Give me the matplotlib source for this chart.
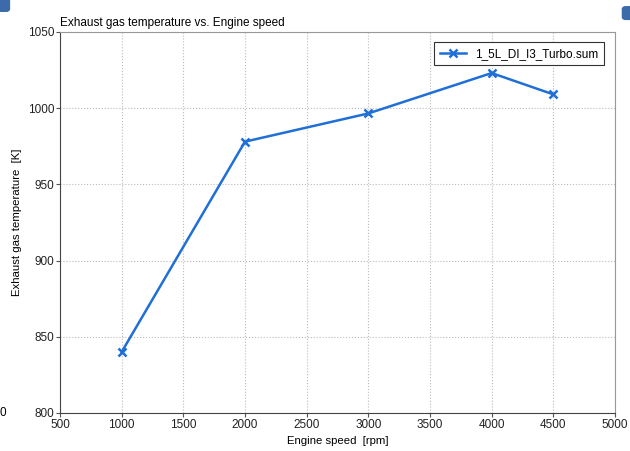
import matplotlib.pyplot as plt
from matplotlib.patches import FancyBboxPatch

plt.rcParams['font.family'] = ['Liberation Sans', 'DejaVu Sans']

speed = [1000, 2000, 3000, 4000, 4500]
temp = [840, 978, 996.5, 1023, 1009]
label = "1_5L_DI_I3_Turbo.sum"

fig = plt.figure(figsize=(6.3, 4.51), dpi=100)
ax = fig.add_axes([0.0952, 0.0843, 0.881, 0.845])

ax.plot(speed, temp, color="#1f6fd6", linewidth=1.8, marker="x",
        markersize=6, markeredgewidth=1.8, label=label)

ax.set_xlim(500, 5000)
ax.set_ylim(800, 1050)
ax.set_xticks(range(500, 5001, 500))
ax.set_yticks(range(800, 1051, 50))
ax.tick_params(labelsize=8.5, length=3, color="#555555", pad=1, labelcolor="#222222")
ax.grid(True, linestyle=":", color="#bbbbbb", linewidth=0.8)

for s in ["left", "bottom"]:
    ax.spines[s].set_color("#444444")
for s in ["top", "right"]:
    ax.spines[s].set_color("#999999")

ax.set_xlabel("Engine speed  [rpm]", fontsize=8.2, labelpad=4)
ax.set_ylabel("Exhaust gas temperature  [K]", fontsize=8.2)
ax.yaxis.set_label_coords(-0.068, 0.5)
ax.set_title("Exhaust gas temperature vs. Engine speed", fontsize=8.5,
             loc="left", pad=4)

leg = ax.legend(loc="upper right", fontsize=8.5, fancybox=False,
                framealpha=1, edgecolor="#333333", borderpad=0.45,
                handlelength=2.2, bbox_to_anchor=(0.99, 0.988))
leg.get_frame().set_linewidth(0.8)

# decorations at the edges of the screenshot
fig.patches.append(FancyBboxPatch((-0.01, 0.975), 0.025, 0.04,
                                  boxstyle="round,pad=0,rounding_size=0.005",
                                  transform=fig.transFigure, color="#3d6aa8"))
fig.patches.append(FancyBboxPatch((0.988, 0.957), 0.02, 0.028,
                                  boxstyle="round,pad=0,rounding_size=0.005",
                                  transform=fig.transFigure, color="#3d6aa8"))
fig.text(0.0, 0.085, "0", fontsize=8.5, va="center", ha="left")

fig.savefig("out.png", dpi=100)
